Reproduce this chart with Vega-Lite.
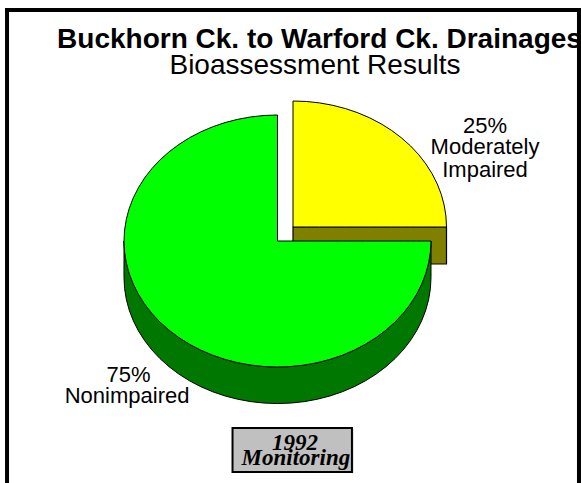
{"$schema":"https://vega.github.io/schema/vega-lite/v6.json","width":581,"height":483,"padding":0,"autosize":"none","background":"white","config":{"view":{"stroke":null}},
"datasets":{
"brown":[{"x":10.1,"y":11.11,"y2":-18.25},{"x":110.1,"y":11.11,"y2":-18.25}],
"yellow":[{"x":10.1,"y":111.11,"y2":11.11},{"x":18.82,"y":110.73,"y2":11.11},{"x":27.46,"y":109.59,"y2":11.11},{"x":35.98,"y":107.7,"y2":11.11},{"x":44.3,"y":105.08,"y2":11.11},{"x":52.36,"y":101.74,"y2":11.11},{"x":60.1,"y":97.71,"y2":11.11},{"x":67.46,"y":93.03,"y2":11.11},{"x":74.38,"y":87.71,"y2":11.11},{"x":80.81,"y":81.82,"y2":11.11},{"x":86.7,"y":75.39,"y2":11.11},{"x":92.02,"y":68.47,"y2":11.11},{"x":96.7,"y":61.11,"y2":11.11},{"x":100.73,"y":53.37,"y2":11.11},{"x":104.07,"y":45.31,"y2":11.11},{"x":106.69,"y":36.99,"y2":11.11},{"x":108.58,"y":28.47,"y2":11.11},{"x":109.72,"y":19.83,"y2":11.11},{"x":110.1,"y":11.11,"y2":11.11}],
"side":[{"x":-100,"y":0,"y2":-29},{"x":-99.62,"y":-8.72,"y2":-37.72},{"x":-98.48,"y":-17.36,"y2":-46.36},{"x":-96.59,"y":-25.88,"y2":-54.88},{"x":-93.97,"y":-34.2,"y2":-63.2},{"x":-90.63,"y":-42.26,"y2":-71.26},{"x":-86.6,"y":-50,"y2":-79},{"x":-81.92,"y":-57.36,"y2":-86.36},{"x":-76.6,"y":-64.28,"y2":-93.28},{"x":-70.71,"y":-70.71,"y2":-99.71},{"x":-64.28,"y":-76.6,"y2":-105.6},{"x":-57.36,"y":-81.92,"y2":-110.92},{"x":-50,"y":-86.6,"y2":-115.6},{"x":-42.26,"y":-90.63,"y2":-119.63},{"x":-34.2,"y":-93.97,"y2":-122.97},{"x":-25.88,"y":-96.59,"y2":-125.59},{"x":-17.36,"y":-98.48,"y2":-127.48},{"x":-8.72,"y":-99.62,"y2":-128.62},{"x":0,"y":-100,"y2":-129},{"x":8.72,"y":-99.62,"y2":-128.62},{"x":17.36,"y":-98.48,"y2":-127.48},{"x":25.88,"y":-96.59,"y2":-125.59},{"x":34.2,"y":-93.97,"y2":-122.97},{"x":42.26,"y":-90.63,"y2":-119.63},{"x":50,"y":-86.6,"y2":-115.6},{"x":57.36,"y":-81.92,"y2":-110.92},{"x":64.28,"y":-76.6,"y2":-105.6},{"x":70.71,"y":-70.71,"y2":-99.71},{"x":76.6,"y":-64.28,"y2":-93.28},{"x":81.92,"y":-57.36,"y2":-86.36},{"x":86.6,"y":-50,"y2":-79},{"x":90.63,"y":-42.26,"y2":-71.26},{"x":93.97,"y":-34.2,"y2":-63.2},{"x":96.59,"y":-25.88,"y2":-54.88},{"x":98.48,"y":-17.36,"y2":-46.36},{"x":99.62,"y":-8.72,"y2":-37.72},{"x":100,"y":0,"y2":-29}],
"green":[{"x":-100,"y":0,"y2":0},{"x":-99.62,"y":8.72,"y2":-8.72},{"x":-98.48,"y":17.36,"y2":-17.36},{"x":-96.59,"y":25.88,"y2":-25.88},{"x":-93.97,"y":34.2,"y2":-34.2},{"x":-90.63,"y":42.26,"y2":-42.26},{"x":-86.6,"y":50,"y2":-50},{"x":-81.92,"y":57.36,"y2":-57.36},{"x":-76.6,"y":64.28,"y2":-64.28},{"x":-70.71,"y":70.71,"y2":-70.71},{"x":-64.28,"y":76.6,"y2":-76.6},{"x":-57.36,"y":81.92,"y2":-81.92},{"x":-50,"y":86.6,"y2":-86.6},{"x":-42.26,"y":90.63,"y2":-90.63},{"x":-34.2,"y":93.97,"y2":-93.97},{"x":-25.88,"y":96.59,"y2":-96.59},{"x":-17.36,"y":98.48,"y2":-98.48},{"x":-8.72,"y":99.62,"y2":-99.62},{"x":0,"y":100,"y2":-100},{"x":0.01,"y":0,"y2":-100},{"x":8.72,"y":0,"y2":-99.62},{"x":17.36,"y":0,"y2":-98.48},{"x":25.88,"y":0,"y2":-96.59},{"x":34.2,"y":0,"y2":-93.97},{"x":42.26,"y":0,"y2":-90.63},{"x":50,"y":0,"y2":-86.6},{"x":57.36,"y":0,"y2":-81.92},{"x":64.28,"y":0,"y2":-76.6},{"x":70.71,"y":0,"y2":-70.71},{"x":76.6,"y":0,"y2":-64.28},{"x":81.92,"y":0,"y2":-57.36},{"x":86.6,"y":0,"y2":-50},{"x":90.63,"y":0,"y2":-42.26},{"x":93.97,"y":0,"y2":-34.2},{"x":96.59,"y":0,"y2":-25.88},{"x":98.48,"y":0,"y2":-17.36},{"x":99.62,"y":0,"y2":-8.72},{"x":100,"y":0,"y2":0}],
"frame":[{"x":-177.5,"x2":-174.9,"y":184.9,"y2":-192.06},{"x":195.1,"x2":197.72,"y":184.9,"y2":-192.06},{"x":-177.5,"x2":197.72,"y":184.9,"y2":181.75}],
"boxShadow":[{"x":-28.3,"x2":49.5,"y":-149.2,"y2":-184.1}],
"box":[{"x":-29.3,"x2":48.5,"y":-148.4,"y2":-183.3}],
"titleBold":[{"x":-143.6,"y":153.2,"t":"Buckhorn Ck. to Warford Ck. Drainages"}],
"titleReg":[{"x":24.4,"y":132.5,"t":"Bioassessment Results"}],
"labels":[{"x":135.2,"y":85.7,"t":"25%"},{"x":135.2,"y":69,"t":"Moderately"},{"x":135.2,"y":50.8,"t":"Impaired"},{"x":-97,"y":-111.9,"t":"75%"},{"x":-98,"y":-128.6,"t":"Nonimpaired"}],
"boxText":[{"x":11.4,"y":-165.9,"t":"1992"},{"x":12,"y":-177.8,"t":"Monitoring"}]
},
"encoding":{"x":{"field":"x","type":"quantitative","axis":null,"scale":{"domain":[-180.78,197.72],"nice":false,"zero":false}},"y":{"field":"y","type":"quantitative","axis":null,"scale":{"domain":[-192.06,191.27],"nice":false,"zero":false}}},
"layer":[
{"data":{"name":"titleBold"},"mark":{"type":"text","font":"Liberation Sans","fontWeight":"bold","fontSize":28,"align":"left","baseline":"alphabetic","color":"black"},"encoding":{"text":{"field":"t"}}},
{"data":{"name":"titleReg"},"mark":{"type":"text","font":"Liberation Sans","fontSize":28,"align":"center","baseline":"alphabetic","color":"black"},"encoding":{"text":{"field":"t"}}},
{"data":{"name":"brown"},"mark":{"type":"area","orient":"vertical","fill":"#808000","stroke":"black","strokeWidth":1.2},"encoding":{"y2":{"field":"y2"}}},
{"data":{"name":"yellow"},"mark":{"type":"area","orient":"vertical","fill":"#ffff00","stroke":"black","strokeWidth":1},"encoding":{"y2":{"field":"y2"}}},
{"data":{"name":"side"},"mark":{"type":"area","orient":"vertical","fill":"#007800","stroke":"black","strokeWidth":1},"encoding":{"y2":{"field":"y2"}}},
{"data":{"name":"green"},"mark":{"type":"area","orient":"vertical","fill":"#00ff00","stroke":"black","strokeWidth":1},"encoding":{"y2":{"field":"y2"}}},
{"data":{"name":"labels"},"mark":{"type":"text","font":"Liberation Sans","fontSize":22,"align":"center","baseline":"alphabetic","color":"black"},"encoding":{"text":{"field":"t"}}},
{"data":{"name":"boxShadow"},"mark":{"type":"rect","fill":"#c8c8c8"},"encoding":{"x2":{"field":"x2"},"y2":{"field":"y2"}}},
{"data":{"name":"box"},"mark":{"type":"rect","fill":"#c0c0c0","stroke":"black","strokeWidth":2},"encoding":{"x2":{"field":"x2"},"y2":{"field":"y2"}}},
{"data":{"name":"boxText"},"mark":{"type":"text","font":"Liberation Serif","fontWeight":"bold","fontStyle":"italic","fontSize":23,"align":"center","baseline":"alphabetic","color":"black"},"encoding":{"text":{"field":"t"}}},
{"data":{"name":"frame"},"mark":{"type":"rect","fill":"black"},"encoding":{"x2":{"field":"x2"},"y2":{"field":"y2"}}}
]}
